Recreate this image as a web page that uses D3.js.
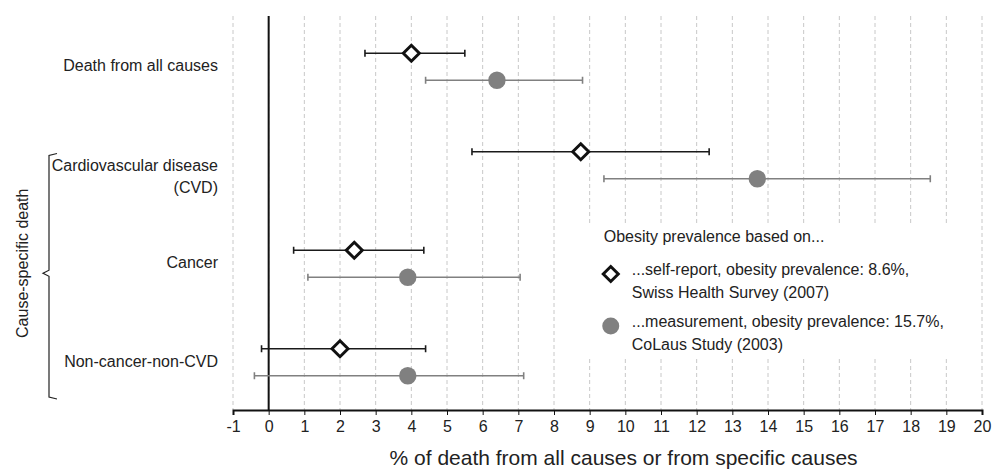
<!DOCTYPE html>
<html>
<head>
<meta charset="utf-8">
<script src="https://cdn.jsdelivr.net/npm/d3@7"></script>
<style>
  body { margin: 0; background: #fff; }
  text { font-family: "Liberation Sans", Arial, sans-serif; fill: #222; }
</style>
</head>
<body>
<div id="chart"></div>
<script>
// categories (top to bottom)
var categories = ["Death from all causes", "Cardiovascular disease (CVD)", "Cancer", "Non-cancer-non-CVD"];
var labelLines = [["Death from all causes"], ["Cardiovascular disease", "(CVD)"], ["Cancer"], ["Non-cancer-non-CVD"]];

// self-report (Swiss Health Survey) estimate and CI
var selfEst = [4.0, 8.75, 2.4, 2.0];
var selfLow = [2.7, 5.7, 0.7, -0.2];
var selfHigh = [5.5, 12.35, 4.35, 4.4];

// measurement (CoLaus) estimate and CI
var measEst = [6.4, 13.7, 3.9, 3.9];
var measLow = [4.4, 9.4, 1.1, -0.4];
var measHigh = [8.8, 18.55, 7.05, 7.15];

var xTicks = d3.range(-1, 21);
var legendTitle = "Obesity prevalence based on...";
var legendItems = [
  ["...self-report, obesity prevalence: 8.6%,", "Swiss Health Survey (2007)"],
  ["...measurement, obesity prevalence: 15.7%,", "CoLaus Study (2003)"]
];

var margin = {top: 16, left: 233, right: 21, bottom: 60};
var W = 1003, H = 470;
var width = W - margin.left - margin.right;
var height = H - margin.top - margin.bottom;

var svg = d3.select("#chart").append("svg")
    .attr("width", W)
    .attr("height", H);

var g = svg.append("g")
    .attr("transform", "translate(" + margin.left + "," + margin.top + ")");

var x = d3.scaleLinear().domain([-1, 20]).range([0, width]);
var y = d3.scaleBand().domain(categories).range([0, height]);

// dashed gridlines
g.selectAll(".grid")
    .data(xTicks)
    .enter().append("line")
    .attr("class", "grid")
    .attr("x1", d => x(d)).attr("x2", d => x(d))
    .attr("y1", 0).attr("y2", height)
    .attr("stroke", "#c8c8c8")
    .attr("stroke-width", 1)
    .attr("stroke-dasharray", "4,3");

// legend background hides the grid behind it
var lg = g.append("g").attr("transform", "translate(" + (x(8.75) - 1) + "," + (y(categories[2]) + 23) + ")");
lg.append("rect")
    .attr("x", 1).attr("y", -12)
    .attr("width", 380).attr("height", 132)
    .attr("fill", "#fff");

// zero line
g.append("line")
    .attr("x1", x(0)).attr("x2", x(0))
    .attr("y1", 0).attr("y2", height)
    .attr("stroke", "#111")
    .attr("stroke-width", 2);

// x axis
var xAxis = g.append("g")
    .attr("transform", "translate(0," + height + ")")
    .call(d3.axisBottom(x).tickValues(xTicks).tickSize(5).tickPadding(6).tickFormat(d => String(d)));
xAxis.select(".domain").attr("stroke", "#111").attr("stroke-width", 2);
xAxis.selectAll(".tick line").attr("stroke", "#111");
xAxis.selectAll(".tick text").attr("font-size", "16px").attr("fill", "#222")
    .attr("font-family", "'Liberation Sans', Arial, sans-serif");

g.append("text")
    .attr("x", x(9.95)).attr("y", height + 55)
    .attr("text-anchor", "middle")
    .attr("font-size", "21px")
    .text("% of death from all causes or from specific causes");

// category labels
var labels = g.selectAll(".cat")
    .data(categories)
    .enter().append("text")
    .attr("class", "cat")
    .attr("text-anchor", "end")
    .attr("font-size", "16px")
    .attr("transform", d => "translate(-15," + (y(d) + y.bandwidth() / 2) + ")");
labels.each(function(d, i) {
  var lines = labelLines[i];
  d3.select(this).selectAll("tspan")
    .data(lines)
    .enter().append("tspan")
    .attr("x", 0)
    .attr("y", (t, j) => j * 22 + 6 + (lines.length > 1 ? 1 : 0))
    .text(t => t);
});

// bracket for cause-specific death
var bTop = y(categories[1]) + 39, bBot = y(categories[3]) + y.bandwidth() - 11;
var bMid = y(categories[2]) + y.bandwidth() / 2 + 11;
var bx = 49 - margin.left;
g.append("path")
    .attr("d", "M" + (bx + 8) + "," + bTop + " L" + bx + "," + (bTop + 2) +
        " L" + bx + "," + (bMid - 3) + " L" + (bx - 6) + "," + bMid +
        " L" + bx + "," + (bMid + 3) +
        " L" + bx + "," + (bBot - 2) + " L" + (bx + 8) + "," + bBot)
    .attr("fill", "none")
    .attr("stroke", "#222")
    .attr("stroke-width", 1.2);
g.append("text")
    .attr("transform", "translate(" + (28 - margin.left) + "," + (bMid - 10) + ") rotate(-90)")
    .attr("text-anchor", "middle")
    .attr("font-size", "16px")
    .text("Cause-specific death");

// series
var series = [
  {est: selfEst, low: selfLow, high: selfHigh, off: -12, color: "#1a1a1a", shape: "diamond"},
  {est: measEst, low: measLow, high: measHigh, off: 15, color: "#808080", shape: "circle"}
];

series.forEach(function(s) {
  var sg = g.append("g");
  var rows = categories.map((c, i) => ({c: c, est: s.est[i], low: s.low[i], high: s.high[i]}));
  var cy = d => y(d.c) + y.bandwidth() / 2 + s.off;

  sg.selectAll(".bar").data(rows).enter().append("line")
    .attr("x1", d => x(d.low)).attr("x2", d => x(d.high))
    .attr("y1", cy).attr("y2", cy)
    .attr("stroke", s.color).attr("stroke-width", 1.6);
  ["low", "high"].forEach(function(k) {
    sg.selectAll(".cap-" + k).data(rows).enter().append("line")
      .attr("x1", d => x(d[k])).attr("x2", d => x(d[k]))
      .attr("y1", d => cy(d) - 3.5).attr("y2", d => cy(d) + 3.5)
      .attr("stroke", s.color).attr("stroke-width", 1.6);
  });

  if (s.shape === "diamond") {
    sg.selectAll(".mk").data(rows).enter().append("path")
      .attr("d", "M0,-8 L8,0 L0,8 L-8,0 Z")
      .attr("transform", d => "translate(" + x(d.est) + "," + cy(d) + ")")
      .attr("fill", "#fff").attr("stroke", "#111").attr("stroke-width", 3);
  } else {
    sg.selectAll(".mk").data(rows).enter().append("circle")
      .attr("cx", d => x(d.est)).attr("cy", cy).attr("r", 8.7)
      .attr("fill", "#808080");
  }
});

// legend
lg.append("text")
    .attr("x", 24).attr("y", 6)
    .attr("font-size", "16px")
    .text(legendTitle);
legendItems.forEach(function(lines, i) {
  var yy = 38 + i * 52;
  if (i === 0) {
    lg.append("path")
      .attr("d", "M0,-7.5 L7.5,0 L0,7.5 L-7.5,0 Z")
      .attr("transform", "translate(31," + yy + ")")
      .attr("fill", "#fff").attr("stroke", "#111").attr("stroke-width", 3);
  } else {
    lg.append("circle").attr("cx", 31).attr("cy", yy).attr("r", 8.5).attr("fill", "#808080");
  }
  lines.forEach(function(t, j) {
    lg.append("text")
      .attr("x", 52).attr("y", yy + 1 + j * 23)
      .attr("font-size", "16px")
      .text(t);
  });
});
</script>
</body>
</html>
